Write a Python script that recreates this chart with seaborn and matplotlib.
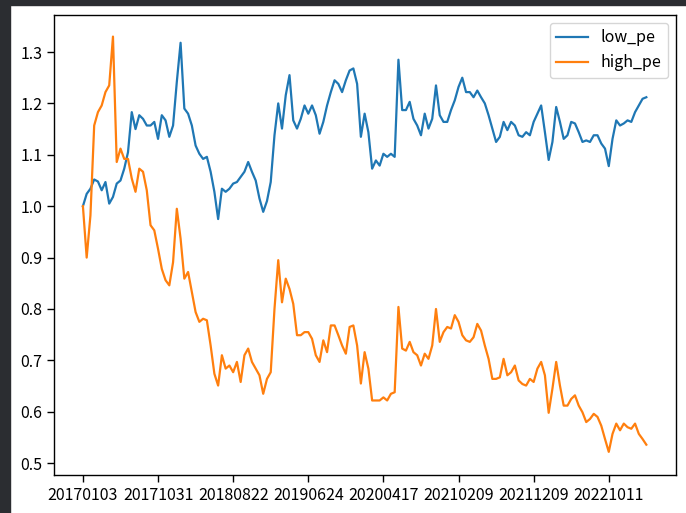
import matplotlib
matplotlib.use("Agg")
import matplotlib.pyplot as plt
from matplotlib.patches import Rectangle
import seaborn as sns
import numpy as np
import pandas as pd

plt.rcParams['font.family'] = ['Noto Sans CJK SC', 'DejaVu Sans']
plt.rcParams['font.size'] = 11.5

# tick positions (trading-day index) and their date labels
tick_pos = [0, 200, 400, 600, 800, 1000, 1200, 1400]
tick_labels = ["20170103", "20171031", "20180822", "20190624",
               "20200417", "20210209", "20211209", "20221011"]

STEP = 10  # values sampled every 10 trading days

low_pe = [
    1.000, 1.024, 1.034, 1.052, 1.048, 1.031, 1.047, 1.005, 1.018, 1.044,
    1.050, 1.073, 1.105, 1.183, 1.150, 1.177, 1.170, 1.157, 1.157, 1.164,
    1.131, 1.177, 1.167, 1.135, 1.157, 1.242, 1.318, 1.190, 1.180, 1.157,
    1.118, 1.102, 1.092, 1.096, 1.067, 1.028, 0.975, 1.034, 1.028, 1.034,
    1.044, 1.047, 1.057, 1.067, 1.086, 1.067, 1.050, 1.015, 0.989, 1.010,
    1.047, 1.138, 1.200, 1.151, 1.216, 1.255, 1.167, 1.151, 1.170, 1.196,
    1.180, 1.196, 1.177, 1.141, 1.164, 1.196, 1.222, 1.245, 1.238, 1.222,
    1.245, 1.264, 1.268, 1.238, 1.135, 1.180, 1.144, 1.073, 1.089, 1.079,
    1.102, 1.096, 1.102, 1.096, 1.285, 1.187, 1.187, 1.203, 1.170, 1.157,
    1.138, 1.180, 1.151, 1.170, 1.235, 1.177, 1.164, 1.164, 1.187, 1.206,
    1.232, 1.250, 1.222, 1.222, 1.212, 1.225, 1.212, 1.200, 1.177, 1.151,
    1.125, 1.135, 1.164, 1.148, 1.164, 1.157, 1.138, 1.135, 1.144, 1.138,
    1.164, 1.180, 1.196, 1.144, 1.090, 1.125, 1.193, 1.164, 1.131, 1.138,
    1.164, 1.161, 1.144, 1.125, 1.128, 1.125, 1.138, 1.138, 1.122, 1.112,
    1.078, 1.131, 1.167, 1.157, 1.161, 1.167, 1.164, 1.183, 1.196, 1.209,
    1.212,
]

high_pe = [
    1.000, 0.900, 0.982, 1.157, 1.183, 1.196, 1.222, 1.235, 1.330, 1.086,
    1.112, 1.092, 1.092, 1.054, 1.028, 1.073, 1.067, 1.031, 0.963, 0.953,
    0.917, 0.878, 0.856, 0.846, 0.891, 0.995, 0.937, 0.859, 0.872, 0.833,
    0.794, 0.775, 0.781, 0.778, 0.729, 0.674, 0.651, 0.710, 0.684, 0.690,
    0.677, 0.697, 0.658, 0.710, 0.723, 0.697, 0.684, 0.671, 0.635, 0.664,
    0.677, 0.800, 0.895, 0.813, 0.859, 0.839, 0.810, 0.749, 0.749, 0.755,
    0.755, 0.742, 0.710, 0.697, 0.739, 0.716, 0.768, 0.768, 0.749, 0.729,
    0.713, 0.765, 0.768, 0.729, 0.655, 0.716, 0.684, 0.622, 0.622, 0.622,
    0.628, 0.622, 0.635, 0.638, 0.804, 0.723, 0.719, 0.736, 0.716, 0.710,
    0.690, 0.713, 0.703, 0.729, 0.800, 0.736, 0.755, 0.765, 0.762, 0.788,
    0.775, 0.749, 0.739, 0.736, 0.745, 0.771, 0.758, 0.729, 0.703, 0.664,
    0.664, 0.667, 0.703, 0.671, 0.677, 0.690, 0.661, 0.654, 0.651, 0.664,
    0.658, 0.684, 0.697, 0.671, 0.598, 0.645, 0.697, 0.651, 0.612, 0.612,
    0.625, 0.632, 0.612, 0.599, 0.580, 0.586, 0.596, 0.590, 0.573, 0.547,
    0.522, 0.557, 0.577, 0.564, 0.577, 0.570, 0.567, 0.577, 0.557, 0.547,
    0.536,
]

df = pd.DataFrame({
    "day": np.arange(len(low_pe)) * STEP,
    "low_pe": low_pe,
    "high_pe": high_pe,
})
long = df.melt(id_vars="day", var_name="series", value_name="value")

fig = plt.figure(figsize=(6.86, 5.13), dpi=100)
fig.patch.set_facecolor("white")
ax = fig.add_axes([54 / 686, 1 - 475 / 513, 622 / 686, 460 / 513])

sns.lineplot(data=long, x="day", y="value", hue="series",
             palette=["#1f77b4", "#ff7f0e"], linewidth=1.6, ax=ax)

ax.set_xlim(-77, 1579)
ax.set_ylim(0.477, 1.372)
ax.set_xticks(tick_pos)
ax.set_xticklabels(tick_labels)
ax.set_yticks([0.5, 0.6, 0.7, 0.8, 0.9, 1.0, 1.1, 1.2, 1.3])
ax.set_xlabel("")
ax.set_ylabel("")
ax.tick_params(length=5, width=1.0)
for s in ax.spines.values():
    s.set_linewidth(1.0)

handles, labels = ax.get_legend_handles_labels()
ax.legend(handles, labels, loc="upper right")

# dark screenshot border (left and top)
fig.patches.append(Rectangle((0, 0), 10 / 686, 1, transform=fig.transFigure,
                             color="#2b2d31", zorder=-1))
fig.patches.append(Rectangle((0, 1 - 5 / 513), 1, 5 / 513, transform=fig.transFigure,
                             color="#2b2d31", zorder=-1))

fig.savefig("out.png", dpi=100)
